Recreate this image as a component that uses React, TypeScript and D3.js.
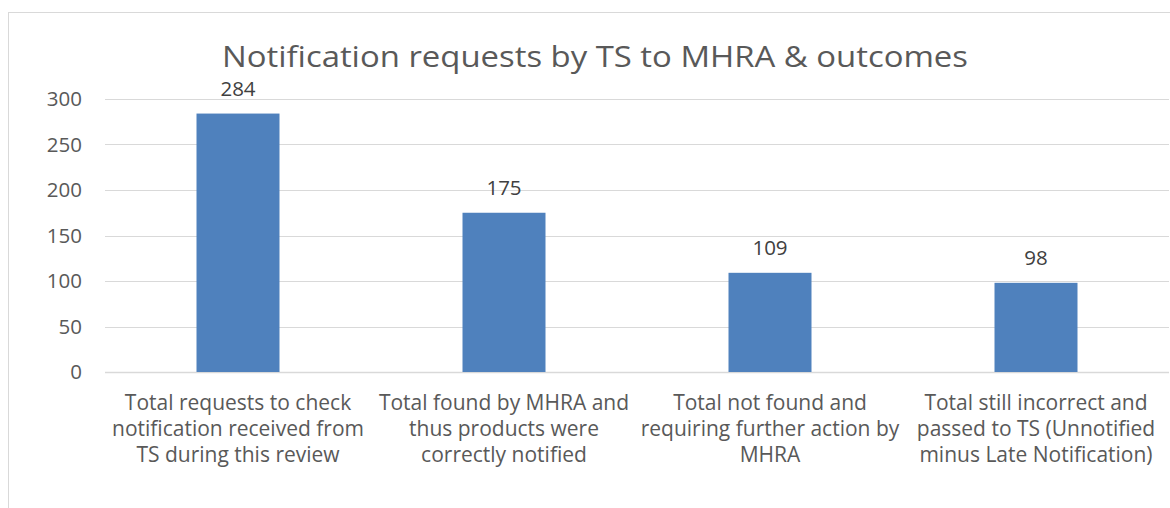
import React, { useRef, useEffect } from "react";
import * as d3 from "d3";

// chart data
const categories: string[][] = [
  ["Total requests to check", "notification received from", "TS during this review"],
  ["Total found by MHRA and", "thus products were", "correctly notified"],
  ["Total not found and", "requiring further action by", "MHRA"],
  ["Total still incorrect and", "passed to TS (Unnotified", "minus Late Notification)"],
];
const values: number[] = [284, 175, 109, 98];
const yTicks: number[] = [0, 50, 100, 150, 200, 250, 300];
const title = "Notification requests by TS to MHRA & outcomes";

const FONT = "'Open Sans', sans-serif";

export default function App() {
  const svgRef = useRef<SVGSVGElement>(null);

  useEffect(() => {
    const W = 1170, H = 508;
    const svg = d3.select(svgRef.current).attr("width", W).attr("height", H);
    svg.selectAll("*").remove();

    const margin = { top: 99, left: 105, right: 1, bottom: 136 };
    const innerW = W - margin.left - margin.right;
    const innerH = H - margin.top - margin.bottom;

    // outer chart frame (cut off at right/bottom like the source)
    svg.append("rect")
      .attr("x", 8.5).attr("y", 12.5)
      .attr("width", W).attr("height", 600)
      .attr("fill", "#fff")
      .attr("stroke", "#d9d9d9");

    svg.append("text")
      .attr("x", 595)
      .attr("y", 67)
      .attr("text-anchor", "middle")
      .attr("font-family", FONT)
      .attr("font-size", "29px")
      .attr("fill", "#595959")
      .attr("textLength", 746)
      .attr("lengthAdjust", "spacingAndGlyphs")
      .text(title);

    const g = svg.append("g").attr("transform", `translate(${margin.left},${margin.top})`);

    const x = d3.scaleBand<number>()
      .domain(values.map((_, i) => i))
      .range([0, innerW])
      .paddingInner(0.688)
      .paddingOuter(0.344);

    const y = d3.scaleLinear().domain([0, 300]).range([innerH, 0]);

    // grid
    g.selectAll(".grid")
      .data(yTicks)
      .join("line")
      .attr("class", "grid")
      .attr("x1", 0).attr("x2", innerW)
      .attr("y1", d => Math.round(y(d)) + 0.5)
      .attr("y2", d => Math.round(y(d)) + 0.5)
      .attr("stroke", "#d9d9d9")
      .attr("stroke-width", d => (d === 0 ? 1.5 : 1));

    // y tick labels
    g.selectAll(".ytick")
      .data(yTicks)
      .join("text")
      .attr("class", "ytick")
      .attr("x", -23)
      .attr("y", d => y(d))
      .attr("dy", "0.35em")
      .attr("text-anchor", "end")
      .attr("font-family", FONT)
      .attr("font-size", "20.5px")
      .attr("fill", "#595959")
      .text(d => d);

    // bars
    g.selectAll(".bar")
      .data(values)
      .join("rect")
      .attr("class", "bar")
      .attr("x", (_, i) => x(i)!)
      .attr("y", d => y(d))
      .attr("width", x.bandwidth())
      .attr("height", d => innerH - y(d))
      .attr("fill", "#4f81bd");

    // value labels
    g.selectAll(".val")
      .data(values)
      .join("text")
      .attr("class", "val")
      .attr("x", (_, i) => x(i)! + x.bandwidth() / 2)
      .attr("y", d => y(d) - 25)
      .attr("dy", "0.35em")
      .attr("text-anchor", "middle")
      .attr("font-family", FONT)
      .attr("font-size", "20.5px")
      .attr("fill", "#404040")
      .text(d => d);

    // category labels
    const cat = g.selectAll(".cat")
      .data(categories)
      .join("text")
      .attr("class", "cat")
      .attr("text-anchor", "middle")
      .attr("font-family", FONT)
      .attr("font-size", "21px")
      .attr("fill", "#595959");
    cat.each(function (lines, i) {
      const cx = x(i)! + x.bandwidth() / 2;
      d3.select(this).selectAll("tspan")
        .data(lines)
        .join("tspan")
        .attr("x", cx)
        .attr("y", (_, j) => innerH + 31 + j * 26)
        .attr("dy", "0.35em")
        .text(d => d);
    });
  }, []);

  return (
    <svg ref={svgRef} style={{ position: "absolute", left: 0, top: 0, display: "block" }} />
  );
}
